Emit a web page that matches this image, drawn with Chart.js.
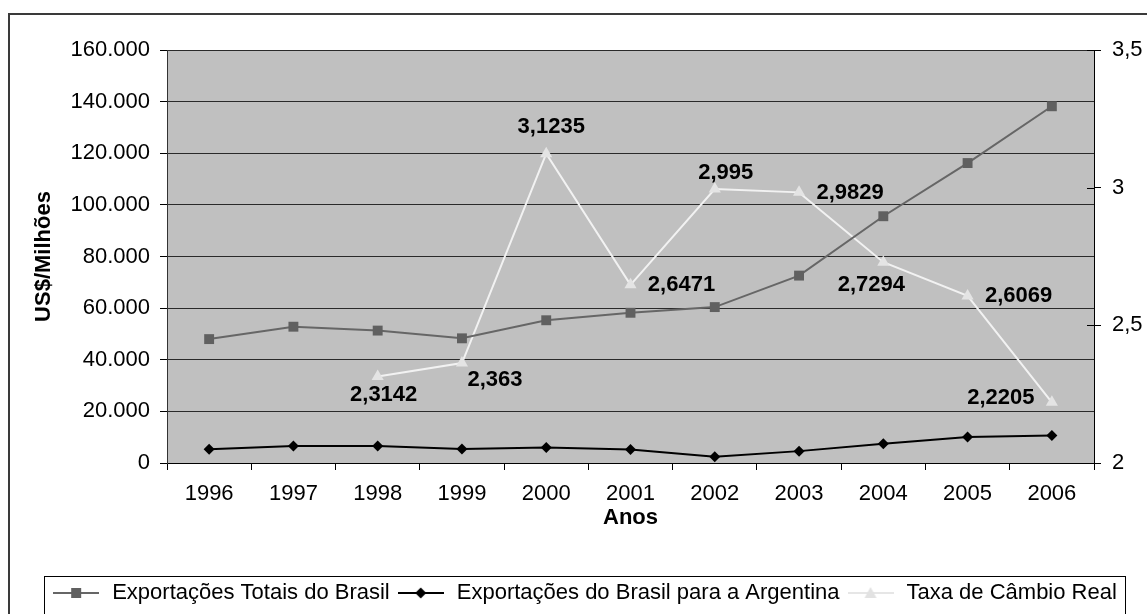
<!DOCTYPE html>
<html>
<head>
<meta charset="utf-8">
<script src="https://cdn.jsdelivr.net/npm/chart.js@4.4.1/dist/chart.umd.min.js"></script>
<style>
  html, body { margin: 0; padding: 0; background: #fff; }
  #wrap { width: 1147px; height: 614px; }
</style>
</head>
<body>
<div id="wrap"><canvas id="chart" width="1147" height="614"></canvas></div>
<script>
// values
const years = ["1996", "1997", "1998", "1999", "2000", "2001", "2002", "2003", "2004", "2005", "2006"]
const totalExports = [48000, 52800, 51300, 48300, 55300, 58200, 60400, 72600, 95600, 116200, 138200]
const argentinaExports = [5300, 6600, 6600, 5400, 6000, 5200, 2400, 4600, 7500, 10100, 10700]
const exchangeRate = [null, null, 2.3142, 2.363, 3.1235, 2.6471, 2.995, 2.9829, 2.7294, 2.6069, 2.2205]
const seriesNames = ["Exportações Totais do Brasil", "Exportações do Brasil para a Argentina", "Taxa de Câmbio Real"]

// where each exchange-rate label sits relative to its point (dx, dy of label centre)
const labelOffsets = [null, null, [6, 18], [33, 17], [5, -27], [51, 0], [11, -16], [51, 1], [-12, 23], [51, 0], [-51, -4]]

const FONT = "'Liberation Sans', Arial, sans-serif"

const fmtThousands = v => String(v).replace(/\B(?=(\d{3})+(?!\d))/g, ".")
const fmtDecimal = v => String(v).replace(".", ",")

// legend swatch: line with the series marker in the middle
function swatch (lineColor, markerColor, shape) {
  const c = document.createElement("canvas")
  c.width = 46
  c.height = 14
  const g = c.getContext("2d")
  g.strokeStyle = lineColor
  g.lineWidth = 2
  g.beginPath()
  g.moveTo(0, 7)
  g.lineTo(46, 7)
  g.stroke()
  g.fillStyle = markerColor
  g.beginPath()
  if (shape === "rect") {
    g.rect(18, 2, 10, 10)
  } else if (shape === "diamond") {
    g.moveTo(23, 1.5); g.lineTo(28.5, 7); g.lineTo(23, 12.5); g.lineTo(17.5, 7)
  } else {
    g.moveTo(23, 1); g.lineTo(29, 12); g.lineTo(17, 12)
  }
  g.closePath()
  g.fill()
  return c
}

const swatches = [
  swatch("#666666", "#606060", "rect"),
  swatch("#000000", "#000000", "diamond"),
  swatch("#e6e6e6", "#e2e2e2", "triangle")
]

const frame = {
  id: "frame",
  beforeDraw (chart) {
    const { ctx, chartArea: a } = chart
    ctx.save()
    ctx.fillStyle = "#c0c0c0"
    ctx.fillRect(a.left, a.top, a.right - a.left, a.bottom - a.top)
    ctx.strokeStyle = "#3a3a3a"
    ctx.lineWidth = 2
    ctx.strokeRect(9, 14, 1200, 700)
    ctx.restore()
  },
  afterDraw (chart) {
    const { ctx } = chart
    // right axis ticks also poke into the plot
    const r = chart.scales.y1
    ctx.save()
    ctx.strokeStyle = "#000"
    ctx.lineWidth = 1
    r.ticks.forEach(t => {
      const py = Math.round(r.getPixelForValue(t.value)) + 0.5
      ctx.beginPath()
      ctx.moveTo(r.left - 7, py)
      ctx.lineTo(r.left, py)
      ctx.stroke()
    })
    const boxes = chart.legend.legendHitBoxes
    if (boxes && boxes.length) {
      const first = boxes[0]
      const last = boxes[boxes.length - 1]
      const left = Math.round(first.left - 7) + 0.5
      const right = Math.round(last.left + last.width + 8) + 0.5
      ctx.strokeRect(left, chart.legend.top + 0.5, right - left, 60)
    }
    ctx.restore()
  }
}

const rateLabels = {
  id: "rateLabels",
  afterDatasetsDraw (chart) {
    const { ctx } = chart
    const meta = chart.getDatasetMeta(2)
    ctx.save()
    ctx.font = "bold 22px " + FONT
    ctx.fillStyle = "#000"
    ctx.textAlign = "center"
    ctx.textBaseline = "middle"
    meta.data.forEach((pt, i) => {
      const v = exchangeRate[i]
      const off = labelOffsets[i]
      if (v == null || !off) return
      ctx.fillText(fmtDecimal(v), pt.x + off[0], pt.y + off[1])
    })
    ctx.restore()
  }
}

new Chart(document.getElementById("chart").getContext("2d"), {
  type: "line",
  data: {
    labels: years,
    datasets: [
      {
        label: seriesNames[0],
        data: totalExports,
        yAxisID: "y",
        borderColor: "#666666",
        backgroundColor: "#606060",
        borderWidth: 2,
        pointStyle: "rect",
        pointRadius: 7,
        pointBorderWidth: 0,
        tension: 0
      },
      {
        label: seriesNames[1],
        data: argentinaExports,
        yAxisID: "y",
        borderColor: "#000000",
        backgroundColor: "#000000",
        borderWidth: 2,
        pointStyle: "rectRot",
        pointRadius: 5.5,
        pointBorderWidth: 0,
        tension: 0
      },
      {
        label: seriesNames[2],
        data: exchangeRate,
        yAxisID: "y1",
        borderColor: "#f2f2f2",
        backgroundColor: "#e4e4e4",
        borderWidth: 2,
        pointStyle: "triangle",
        pointRadius: 7,
        pointBorderWidth: 0,
        tension: 0,
        spanGaps: false
      }
    ]
  },
  options: {
    responsive: false,
    animation: false,
    devicePixelRatio: 1,
    layout: { padding: { left: 21, right: 0, top: 50, bottom: 0 } },
    plugins: {
      tooltip: { enabled: false },
      legend: {
        position: "bottom",
        labels: {
          usePointStyle: true,
          pointStyleWidth: 50,
          padding: 6,
          color: "#000",
          font: { family: FONT, size: 22 },
          generateLabels: () => seriesNames.map((name, i) => ({
            text: name,
            pointStyle: swatches[i],
            fillStyle: "transparent",
            strokeStyle: "transparent",
            lineWidth: 0,
            hidden: false,
            datasetIndex: i,
            fontColor: "#000"
          }))
        }
      }
    },
    scales: {
      x: {
        offset: true,
        grid: { display: true, drawOnChartArea: false, offset: true, tickLength: 7, color: "#000" },
        border: { color: "#000", width: 1 },
        ticks: { color: "#000", padding: 11, maxRotation: 0, font: { family: FONT, size: 22 } },
        title: { display: true, text: "Anos", color: "#000", font: { family: FONT, size: 22, weight: "bold" }, padding: { top: 0, bottom: 45 } },
        afterFit: scale => { scale.height = 113 }
      },
      y: {
        position: "left",
        min: 0,
        max: 160000,
        ticks: { stepSize: 20000, color: "#000", padding: 10, font: { family: FONT, size: 22 }, callback: v => fmtThousands(v) },
        grid: { color: "#2a2a2a", tickLength: 7, tickColor: "#000" },
        border: { color: "#333", width: 1 },
        title: { display: true, text: "US$/Milhões", color: "#000", font: { family: FONT, size: 22, weight: "bold" }, padding: { top: 10, bottom: 0 } },
        afterFit: scale => { scale.width = 146 }
      },
      y1: {
        position: "right",
        min: 2,
        max: 3.5,
        ticks: { stepSize: 0.5, color: "#000", padding: 11, font: { family: FONT, size: 22 }, callback: v => fmtDecimal(v) },
        grid: { drawOnChartArea: false, tickLength: 7, color: "#000" },
        border: { color: "#000", width: 1 },
        afterFit: scale => { scale.width = 53 }
      }
    }
  },
  plugins: [frame, rateLabels]
})
</script>
</body>
</html>
